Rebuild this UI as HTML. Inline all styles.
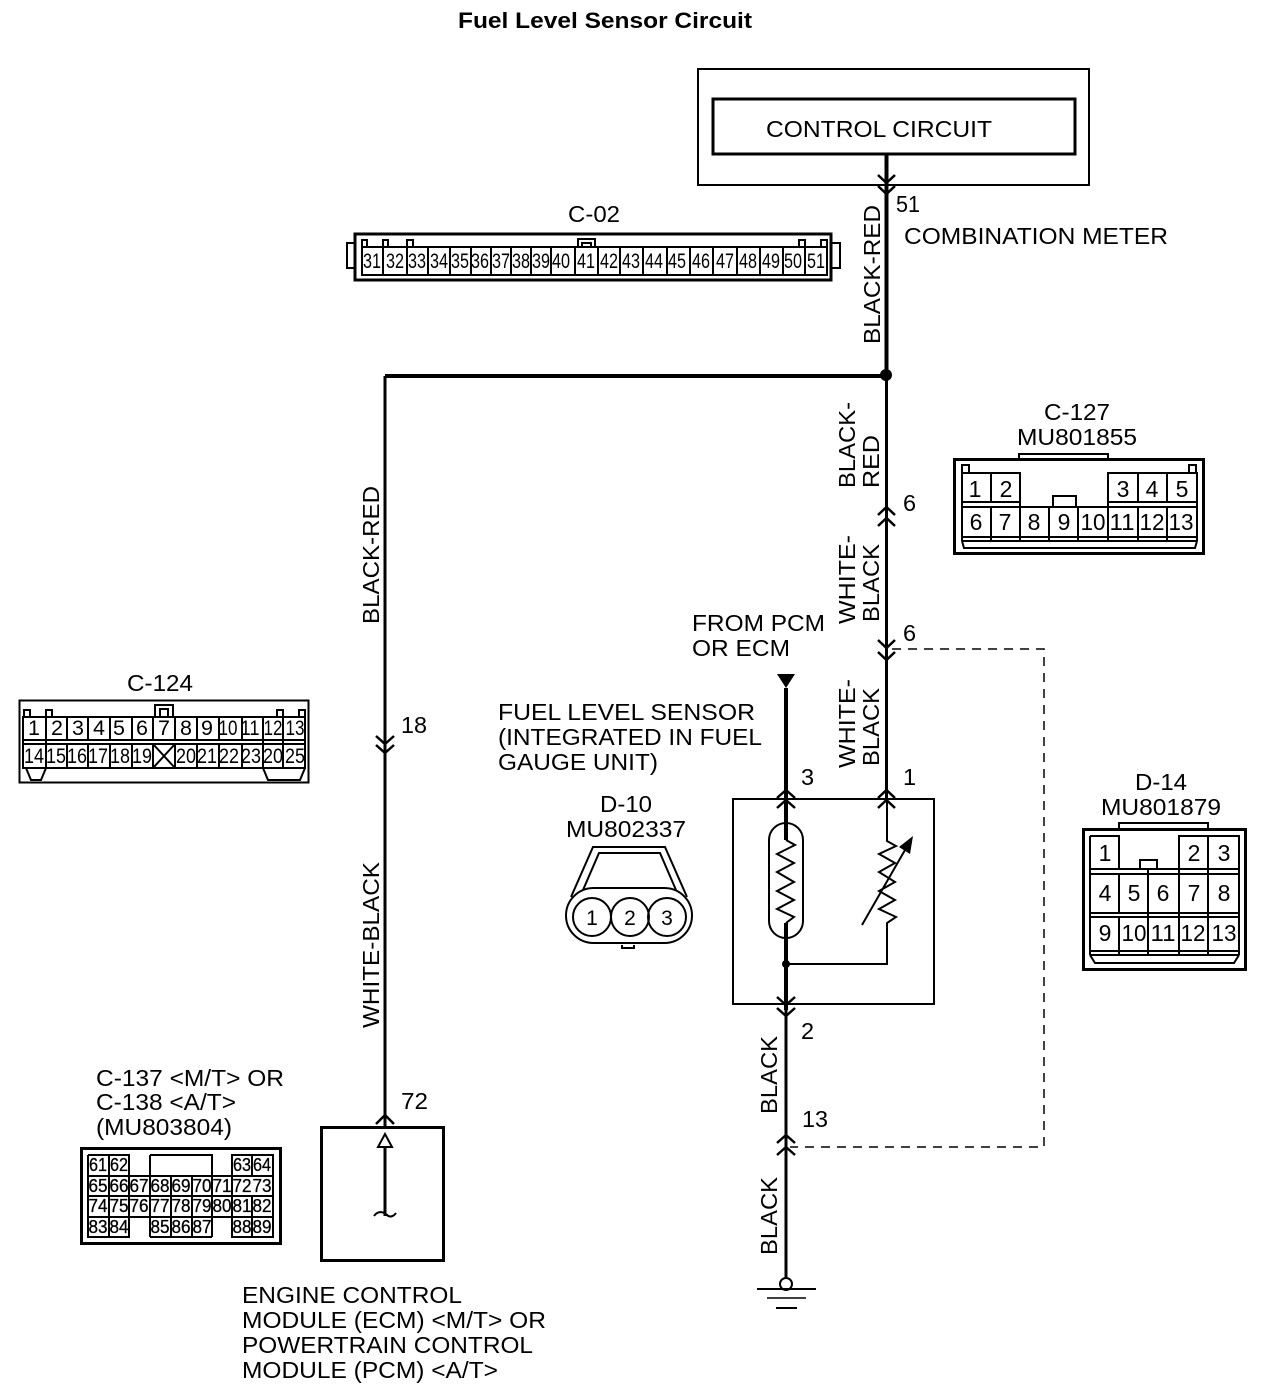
<!DOCTYPE html>
<html><head><meta charset="utf-8"><title>Fuel Level Sensor Circuit</title>
<style>
html,body{margin:0;padding:0;background:#fff}
svg{display:block}
text{font-family:"Liberation Sans",sans-serif;fill:#000;font-size:23.500px}
.t{font-size:22px;font-weight:bold}
.n{font-size:21.500px;text-anchor:middle}
.s{font-size:18.500px;text-anchor:middle;stroke:#000;stroke-width:.3}
.m{font-size:23px;text-anchor:middle}
.d{font-size:21px;text-anchor:middle}
.l{fill:none;stroke:#000;stroke-width:2}
.c{fill:none;stroke:#000;stroke-width:2.500}
.b{fill:none;stroke:#000;stroke-width:3}
.w{fill:none;stroke:#000;stroke-width:4}
</style></head><body>
<svg xmlns="http://www.w3.org/2000/svg" width="1280" height="1398" viewBox="0 0 1280 1398">
<rect width="1280" height="1398" fill="#fff"/>
<text class="t" x="458" y="28" textLength="294" lengthAdjust="spacingAndGlyphs">Fuel Level Sensor Circuit</text>

<!-- control -->
<rect class="l" x="698" y="69" width="391" height="116"/>
<rect class="b" x="713" y="99" width="362" height="55"/>
<text x="766" y="137" textLength="226" lengthAdjust="spacingAndGlyphs">CONTROL CIRCUIT</text>
<text x="896" y="212" textLength="24" lengthAdjust="spacingAndGlyphs">51</text>
<text x="904" y="244" textLength="264" lengthAdjust="spacingAndGlyphs">COMBINATION METER</text>

<!-- wires -->
<path class="w" d="M886.500 155V376H385"/>
<path class="b" d="M886.500 376V800M385 376V1127"/>
<path class="w" d="M786 688V840M786 923V1010"/>
<path class="b" d="M786 1010V1278"/>
<path d="M892 649H1044V1147H790" fill="none" stroke="#000" stroke-width="1.500" stroke-dasharray="9 7"/>
<circle cx="886" cy="375" r="6"/>
<path d="M777 674H795L786 688Z"/>
<!-- chevrons -->
<path class="c" d="M878 175L886.500 183L895 175M878 186L886.500 194L895 186
M878 515L886.500 507L895 515M878 526L886.500 518L895 526
M878 640L886.500 648L895 640M878 652L886.500 660L895 652
M878 798L886.500 790L895 798M878 808L886.500 800L895 808
M777 798L786 790L795 798M777 808L786 800L795 808
M777 997L786 1005L795 997M777 1008L786 1016L795 1008
M777 1143L786 1135L795 1143M777 1155L786 1147L795 1155
M376 736L385 744L394 736M376 745L385 753L394 745
M376 1124L385 1115L394 1124"/>

<!-- rotated labels -->
<text transform="translate(880,344) rotate(-90)" textLength="139" lengthAdjust="spacingAndGlyphs">BLACK-RED</text>
<text transform="translate(855,488) rotate(-90)" textLength="86" lengthAdjust="spacingAndGlyphs">BLACK-</text>
<text transform="translate(879,488) rotate(-90)" textLength="53" lengthAdjust="spacingAndGlyphs">RED</text>
<text transform="translate(855,624) rotate(-90)" textLength="89" lengthAdjust="spacingAndGlyphs">WHITE-</text>
<text transform="translate(879,622) rotate(-90)" textLength="78" lengthAdjust="spacingAndGlyphs">BLACK</text>
<text transform="translate(855,768) rotate(-90)" textLength="89" lengthAdjust="spacingAndGlyphs">WHITE-</text>
<text transform="translate(879,766) rotate(-90)" textLength="78" lengthAdjust="spacingAndGlyphs">BLACK</text>
<text transform="translate(379,624) rotate(-90)" textLength="138" lengthAdjust="spacingAndGlyphs">BLACK-RED</text>
<text transform="translate(379,1028) rotate(-90)" textLength="166" lengthAdjust="spacingAndGlyphs">WHITE-BLACK</text>
<text transform="translate(777,1114) rotate(-90)" textLength="78" lengthAdjust="spacingAndGlyphs">BLACK</text>
<text transform="translate(777,1255) rotate(-90)" textLength="78" lengthAdjust="spacingAndGlyphs">BLACK</text>

<!-- pin labels -->
<text x="903" y="511">6</text><text x="903" y="641">6</text>
<text x="903" y="785">1</text><text x="801" y="785">3</text>
<text x="801" y="1039">2</text>
<text x="802" y="1127" textLength="26" lengthAdjust="spacingAndGlyphs">13</text>
<text x="401" y="733" textLength="26" lengthAdjust="spacingAndGlyphs">18</text>
<text x="401" y="1109" textLength="27" lengthAdjust="spacingAndGlyphs">72</text>

<text x="692" y="631" textLength="133" lengthAdjust="spacingAndGlyphs">FROM PCM</text>
<text x="692" y="656" textLength="98" lengthAdjust="spacingAndGlyphs">OR ECM</text>
<text x="498" y="720" textLength="257" lengthAdjust="spacingAndGlyphs">FUEL LEVEL SENSOR</text>
<text x="498" y="745" textLength="264" lengthAdjust="spacingAndGlyphs">(INTEGRATED IN FUEL</text>
<text x="498" y="770" textLength="160" lengthAdjust="spacingAndGlyphs">GAUGE UNIT)</text>
<text x="600" y="812" textLength="52" lengthAdjust="spacingAndGlyphs">D-10</text>
<text x="566" y="837" textLength="120" lengthAdjust="spacingAndGlyphs">MU802337</text>
<text x="568" y="222" textLength="52" lengthAdjust="spacingAndGlyphs">C-02</text>
<text x="127" y="691" textLength="66" lengthAdjust="spacingAndGlyphs">C-124</text>
<text x="1044" y="420" textLength="66" lengthAdjust="spacingAndGlyphs">C-127</text>
<text x="1017" y="445" textLength="120" lengthAdjust="spacingAndGlyphs">MU801855</text>
<text x="1135" y="790" textLength="52" lengthAdjust="spacingAndGlyphs">D-14</text>
<text x="1101" y="815" textLength="120" lengthAdjust="spacingAndGlyphs">MU801879</text>
<text x="96" y="1086" textLength="188" lengthAdjust="spacingAndGlyphs">C-137 &lt;M/T&gt; OR</text>
<text x="96" y="1110" textLength="140" lengthAdjust="spacingAndGlyphs">C-138 &lt;A/T&gt;</text>
<text x="96" y="1135" textLength="136" lengthAdjust="spacingAndGlyphs">(MU803804)</text>
<text x="242" y="1303" textLength="220" lengthAdjust="spacingAndGlyphs">ENGINE CONTROL</text>
<text x="242" y="1328" textLength="304" lengthAdjust="spacingAndGlyphs">MODULE (ECM) &lt;M/T&gt; OR</text>
<text x="242" y="1353" textLength="291" lengthAdjust="spacingAndGlyphs">POWERTRAIN CONTROL</text>
<text x="242" y="1378" textLength="256" lengthAdjust="spacingAndGlyphs">MODULE (PCM) &lt;A/T&gt;</text>

<!-- sensor box -->
<rect class="l" x="733" y="799" width="201" height="205"/>
<rect class="l" x="769" y="823" width="34" height="115" rx="17"/>
<path class="l" d="M786 840L795 845L777 854L794 863L777 872L794 882L777 891L794 900L777 909L794 917L786 923"/>
<path class="l" d="M887 800V841L896 846L879 854L895 863L879 872L895 882L879 891L895 900L879 909L896 917L887 923V964H786"/>
<path class="l" d="M862 925L905 850"/>
<path d="M913 836L910 854L899 847Z"/>
<circle cx="786" cy="964" r="4"/>

<!-- ECM box -->
<rect class="b" x="321.500" y="1127.500" width="122" height="133"/>
<path class="b" d="M385 1147V1216"/>
<path class="l" d="M385 1134L392 1147H378Z"/>
<path class="l" d="M374 1216C378 1210 384 1212 387 1215C390 1218 394 1216 396 1213"/>

<!-- ground -->
<circle cx="786" cy="1284" r="6" fill="#fff" stroke="#000" stroke-width="2"/>
<path class="l" d="M757 1289H816"/>
<path stroke="#000" stroke-width="1.500" d="M767 1298H806"/>
<path class="l" d="M776 1308H797"/>

<!-- D-10 -->
<path class="l" d="M622 945V948H634V945"/>
<path class="l" d="M571 897L593 847H665L687 897"/>
<path class="l" d="M583 890L599 853H660L676 890"/>
<rect class="l" x="566" y="888" width="126" height="55" rx="27.500" fill="#fff"/>
<circle class="l" cx="592" cy="917" r="19"/><circle class="l" cx="630" cy="917" r="19"/><circle class="l" cx="667" cy="917" r="19"/>
<text class="d" x="592" y="925">1</text><text class="d" x="630" y="925">2</text><text class="d" x="667" y="925">3</text>

<!-- C-02 -->
<rect class="b" x="355" y="234" width="476" height="46"/>
<path class="l" d="M355 243H347V268H355M832 243H840V268H832M362 247V240H367V247M383 247V240H388V247M407 247V240H413V247M799 247V240H805V247M821 247V240H827V247"/>
<path class="l" d="M578 247V239H595V247M582 247V243H591V247"/>
<path class="l" d="M362 247H827V275H362ZM383 247V275M407 247V275M428 247V275M450 247V275M471 247V275M491 247V275M511 247V275M531 247V275M551 247V275M575 247V275M598 247V275M620 247V275M643 247V275M667 247V275M690 247V275M713 247V275M737 247V275M760 247V275M783 247V275M805 247V275"/>
<text class="n" x="372" y="268" textLength="18" lengthAdjust="spacingAndGlyphs">31</text>
<text class="n" x="395" y="268" textLength="18" lengthAdjust="spacingAndGlyphs">32</text>
<text class="n" x="417" y="268" textLength="18" lengthAdjust="spacingAndGlyphs">33</text>
<text class="n" x="439" y="268" textLength="18" lengthAdjust="spacingAndGlyphs">34</text>
<text class="n" x="460" y="268" textLength="18" lengthAdjust="spacingAndGlyphs">35</text>
<text class="n" x="480" y="268" textLength="18" lengthAdjust="spacingAndGlyphs">36</text>
<text class="n" x="501" y="268" textLength="18" lengthAdjust="spacingAndGlyphs">37</text>
<text class="n" x="521" y="268" textLength="18" lengthAdjust="spacingAndGlyphs">38</text>
<text class="n" x="541" y="268" textLength="18" lengthAdjust="spacingAndGlyphs">39</text>
<text class="n" x="561" y="268" textLength="18" lengthAdjust="spacingAndGlyphs">40</text>
<text class="n" x="586" y="268" textLength="18" lengthAdjust="spacingAndGlyphs">41</text>
<text class="n" x="609" y="268" textLength="18" lengthAdjust="spacingAndGlyphs">42</text>
<text class="n" x="631" y="268" textLength="18" lengthAdjust="spacingAndGlyphs">43</text>
<text class="n" x="654" y="268" textLength="18" lengthAdjust="spacingAndGlyphs">44</text>
<text class="n" x="677" y="268" textLength="18" lengthAdjust="spacingAndGlyphs">45</text>
<text class="n" x="701" y="268" textLength="18" lengthAdjust="spacingAndGlyphs">46</text>
<text class="n" x="725" y="268" textLength="18" lengthAdjust="spacingAndGlyphs">47</text>
<text class="n" x="748" y="268" textLength="18" lengthAdjust="spacingAndGlyphs">48</text>
<text class="n" x="771" y="268" textLength="18" lengthAdjust="spacingAndGlyphs">49</text>
<text class="n" x="793" y="268" textLength="18" lengthAdjust="spacingAndGlyphs">50</text>
<text class="n" x="816" y="268" textLength="18" lengthAdjust="spacingAndGlyphs">51</text>

<!-- C-127 -->
<rect class="b" x="954.500" y="459.500" width="249" height="94"/>
<path class="l" d="M1019 459V454H1108V459M962 473V465H969V473M1189 473V465H1196V473"/>
<path class="l" d="M962 473H1020V507M962 473V541M991 473V502M1108 507V473H1197V541M1138 473V502M1167 473V502M962 502H1020M1108 502H1197"/>
<path class="l" d="M962 507H1197M991 507V541M1020 507V541M1049 507V541M1078 507V541M1108 507V541M1138 507V541M1167 507V541M962 537H1197M962 541H1197M962 541L964 548H1195L1197 541"/>
<path class="l" d="M1053 507V496H1076V507"/>
<text class="m" x="975" y="497">1</text><text class="m" x="1006" y="497">2</text>
<text class="m" x="1123" y="497">3</text><text class="m" x="1152" y="497">4</text><text class="m" x="1182" y="497">5</text>
<text class="m" x="976" y="530">6</text><text class="m" x="1005" y="530">7</text><text class="m" x="1034" y="530">8</text><text class="m" x="1064" y="530">9</text>
<text class="m" x="1093" y="530" textLength="25" lengthAdjust="spacingAndGlyphs">10</text>
<text class="m" x="1122" y="530" textLength="25" lengthAdjust="spacingAndGlyphs">11</text>
<text class="m" x="1152" y="530" textLength="25" lengthAdjust="spacingAndGlyphs">12</text>
<text class="m" x="1181" y="530" textLength="25" lengthAdjust="spacingAndGlyphs">13</text>

<!-- C-124 -->
<rect class="l" x="19.500" y="700.500" width="289" height="82"/>
<path class="l" d="M23 717H305V740H23ZM23 744H305V768H23ZM23 717V768M305 717V768"/>
<path class="l" d="M46 717V740M67 717V740M88 717V740M110 717V740M132 717V740M153 717V740M175 717V740M197 717V740M219 717V740M242 717V740M263 717V740M283 717V740
M46 744V768M67 744V768M88 744V768M110 744V768M132 744V768M153 744V768M175 744V768M197 744V768M219 744V768M242 744V768M263 744V768M283 744V768M46 740V744M263 740V744M283 740V744"/>
<path class="l" d="M24 717V710H30V717M46 717V710H52V717M277 717V710H283V717M299 717V710H305V717M155 717V705H173V717M160 717V709H168V717"/>
<path class="l" d="M26 768L31 780H41L46 768M263 768L268 780H300L305 768"/>
<path class="l" d="M153 744L175 768M175 744L153 768"/>
<text class="n" x="34" y="735">1</text><text class="n" x="57" y="735">2</text><text class="n" x="78" y="735">3</text><text class="n" x="99" y="735">4</text><text class="n" x="119" y="735">5</text><text class="n" x="142" y="735">6</text><text class="n" x="164" y="735">7</text><text class="n" x="186" y="735">8</text><text class="n" x="207" y="735">9</text>
<text class="n" x="228" y="735" textLength="19" lengthAdjust="spacingAndGlyphs">10</text>
<text class="n" x="250" y="735" textLength="19" lengthAdjust="spacingAndGlyphs">11</text>
<text class="n" x="273" y="735" textLength="19" lengthAdjust="spacingAndGlyphs">12</text>
<text class="n" x="295" y="735" textLength="19" lengthAdjust="spacingAndGlyphs">13</text>
<text class="n" x="34" y="763" textLength="20" lengthAdjust="spacingAndGlyphs">14</text>
<text class="n" x="56" y="763" textLength="20" lengthAdjust="spacingAndGlyphs">15</text>
<text class="n" x="77" y="763" textLength="20" lengthAdjust="spacingAndGlyphs">16</text>
<text class="n" x="98" y="763" textLength="20" lengthAdjust="spacingAndGlyphs">17</text>
<text class="n" x="120" y="763" textLength="20" lengthAdjust="spacingAndGlyphs">18</text>
<text class="n" x="142" y="763" textLength="20" lengthAdjust="spacingAndGlyphs">19</text>
<text class="n" x="186" y="763" textLength="20" lengthAdjust="spacingAndGlyphs">20</text>
<text class="n" x="207" y="763" textLength="20" lengthAdjust="spacingAndGlyphs">21</text>
<text class="n" x="229" y="763" textLength="20" lengthAdjust="spacingAndGlyphs">22</text>
<text class="n" x="251" y="763" textLength="20" lengthAdjust="spacingAndGlyphs">23</text>
<text class="n" x="273" y="763" textLength="20" lengthAdjust="spacingAndGlyphs">20</text>
<text class="n" x="295" y="763" textLength="20" lengthAdjust="spacingAndGlyphs">25</text>

<!-- D-14 -->
<rect class="b" x="1083.500" y="829.500" width="162" height="140"/>
<path class="l" d="M1119 829V823H1208V829"/>
<path class="l" d="M1090 836H1119V869M1090 836V955M1179 869V836H1239V955M1208 836V955M1090 869H1239M1090 874H1239M1090 913H1239M1090 917H1239M1090 951H1239M1090 955H1239M1119 917V955M1148 869V955M1179 869V955M1119 874V913M1090 955L1095 963H1234L1239 955"/>
<path class="l" d="M1140 869V860H1157V869"/>
<text class="m" x="1105" y="861">1</text><text class="m" x="1194" y="861">2</text><text class="m" x="1224" y="861">3</text>
<text class="m" x="1105" y="901">4</text><text class="m" x="1134" y="901">5</text><text class="m" x="1163" y="901">6</text><text class="m" x="1194" y="901">7</text><text class="m" x="1224" y="901">8</text>
<text class="m" x="1105" y="941">9</text>
<text class="m" x="1134" y="941" textLength="25" lengthAdjust="spacingAndGlyphs">10</text>
<text class="m" x="1163" y="941" textLength="25" lengthAdjust="spacingAndGlyphs">11</text>
<text class="m" x="1193" y="941" textLength="25" lengthAdjust="spacingAndGlyphs">12</text>
<text class="m" x="1224" y="941" textLength="25" lengthAdjust="spacingAndGlyphs">13</text>

<!-- C-137 -->
<rect class="b" x="81.500" y="1148.500" width="199" height="95"/>
<path class="l" d="M88 1155H129V1176M88 1155V1237H129V1217M109 1155V1176M232 1176V1155H273V1237H232V1217M252 1155V1176M150 1155H212V1176M150 1155V1176M212 1155V1176"/>
<path class="l" d="M88 1176H273M88 1196H273M88 1217H273M129 1176V1217M150 1176V1237M171 1176V1237M192 1176V1237M212 1176V1237M232 1176V1217M252 1196V1237M109 1176V1237M150 1237H212"/>
<text class="s" x="98" y="1171" textLength="18" lengthAdjust="spacingAndGlyphs">61</text><text class="s" x="119" y="1171" textLength="18" lengthAdjust="spacingAndGlyphs">62</text><text class="s" x="242" y="1171" textLength="18" lengthAdjust="spacingAndGlyphs">63</text><text class="s" x="262" y="1171" textLength="18" lengthAdjust="spacingAndGlyphs">64</text>
<text class="s" x="98" y="1192" textLength="19" lengthAdjust="spacingAndGlyphs">65</text><text class="s" x="119" y="1192" textLength="19" lengthAdjust="spacingAndGlyphs">66</text><text class="s" x="139" y="1192" textLength="19" lengthAdjust="spacingAndGlyphs">67</text><text class="s" x="160" y="1192" textLength="19" lengthAdjust="spacingAndGlyphs">68</text><text class="s" x="181" y="1192" textLength="19" lengthAdjust="spacingAndGlyphs">69</text><text class="s" x="202" y="1192" textLength="19" lengthAdjust="spacingAndGlyphs">70</text><text class="s" x="222" y="1192" textLength="19" lengthAdjust="spacingAndGlyphs">71</text><text class="s" x="242" y="1192" textLength="19" lengthAdjust="spacingAndGlyphs">72</text><text class="s" x="262" y="1192" textLength="19" lengthAdjust="spacingAndGlyphs">73</text>
<text class="s" x="98" y="1212" textLength="19" lengthAdjust="spacingAndGlyphs">74</text><text class="s" x="119" y="1212" textLength="19" lengthAdjust="spacingAndGlyphs">75</text><text class="s" x="139" y="1212" textLength="19" lengthAdjust="spacingAndGlyphs">76</text><text class="s" x="160" y="1212" textLength="19" lengthAdjust="spacingAndGlyphs">77</text><text class="s" x="181" y="1212" textLength="19" lengthAdjust="spacingAndGlyphs">78</text><text class="s" x="202" y="1212" textLength="19" lengthAdjust="spacingAndGlyphs">79</text><text class="s" x="222" y="1212" textLength="19" lengthAdjust="spacingAndGlyphs">80</text><text class="s" x="242" y="1212" textLength="19" lengthAdjust="spacingAndGlyphs">81</text><text class="s" x="262" y="1212" textLength="19" lengthAdjust="spacingAndGlyphs">82</text>
<text class="s" x="98" y="1233" textLength="19" lengthAdjust="spacingAndGlyphs">83</text><text class="s" x="119" y="1233" textLength="19" lengthAdjust="spacingAndGlyphs">84</text><text class="s" x="160" y="1233" textLength="19" lengthAdjust="spacingAndGlyphs">85</text><text class="s" x="181" y="1233" textLength="19" lengthAdjust="spacingAndGlyphs">86</text><text class="s" x="202" y="1233" textLength="19" lengthAdjust="spacingAndGlyphs">87</text><text class="s" x="242" y="1233" textLength="19" lengthAdjust="spacingAndGlyphs">88</text><text class="s" x="262" y="1233" textLength="19" lengthAdjust="spacingAndGlyphs">89</text>
</svg>
</body></html>
